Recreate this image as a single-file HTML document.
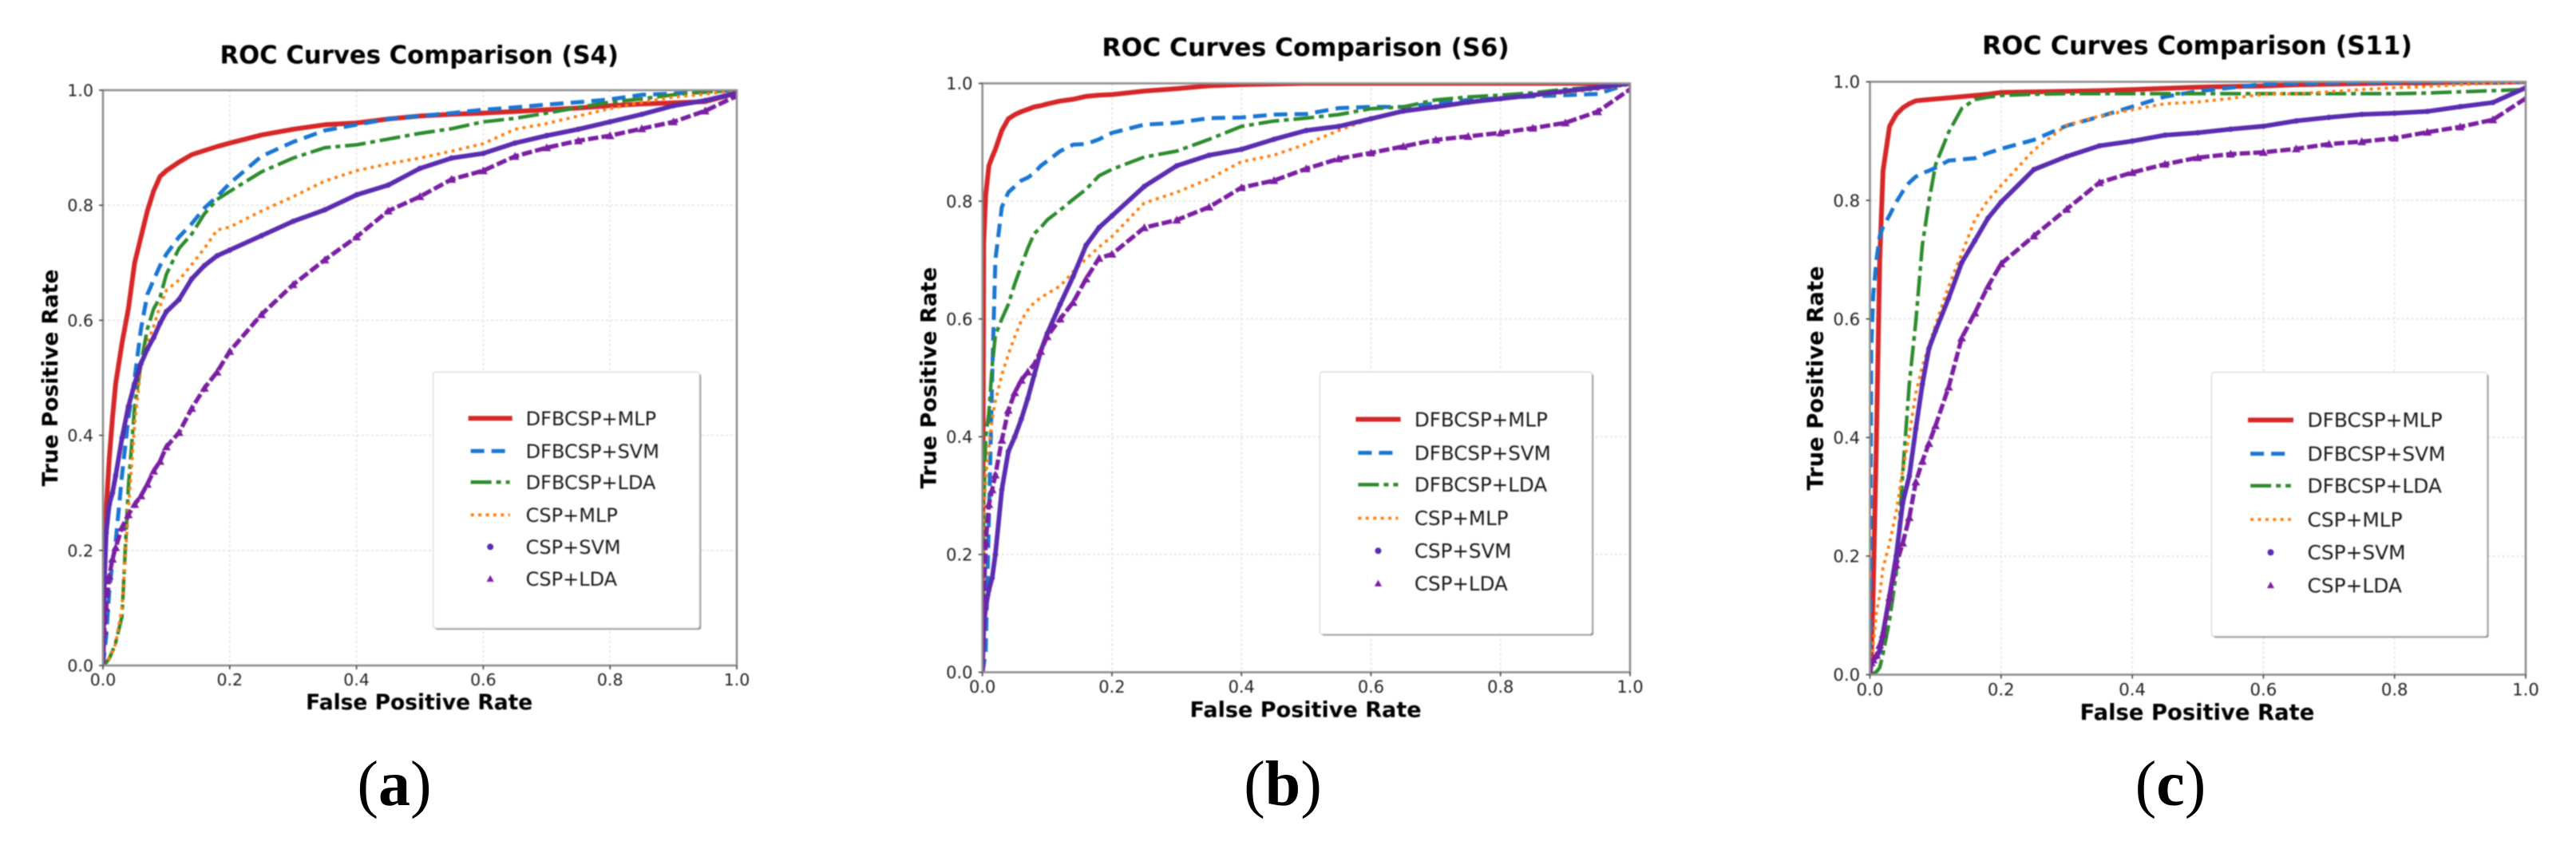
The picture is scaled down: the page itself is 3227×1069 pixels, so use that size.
<!DOCTYPE html>
<html lang="en">
<head>
<meta charset="utf-8">
<title>ROC Curves Comparison</title>
<style>
  html, body { margin: 0; padding: 0; background: #fff; }
  svg { display: block; }
  .chart { filter: blur(0.7px); font-family: "DejaVu Sans", "Liberation Sans", sans-serif; }
  .sub { font-family: "Liberation Serif", serif; font-size: 80px; fill: #000; text-anchor: middle; }
</style>
</head>
<body>
<svg id="figure" xmlns="http://www.w3.org/2000/svg" width="3227" height="1069" viewBox="0 0 3227 1069">
  <rect width="3227" height="1069" fill="#fff"/>
  <g id="charts"></g>
  <text class="sub" x="494" y="1009">(<tspan font-weight="700">a</tspan>)</text>
  <text class="sub" x="1607" y="1009">(<tspan font-weight="700">b</tspan>)</text>
  <text class="sub" x="2719" y="1009">(<tspan font-weight="700">c</tspan>)</text>
</svg>
<script>
// Shared axis values
const fprGrid = [0,.002,.005,.01,.015,.02,.03,.04,.05,.06,
  .07,.08,.09,.1,.12,.14,.16,.18,.2,.25,
  .3,.35,.4,.45,.5,.55,.6,.65,.7,.75,
  .8,.85,.9,.95,1];
const tickValues = [0,.2,.4,.6,.8,1];
const tickLabels = ['0.0','0.2','0.4','0.6','0.8','1.0'];
const seriesNames = ['DFBCSP+MLP','DFBCSP+SVM','DFBCSP+LDA','CSP+MLP','CSP+SVM','CSP+LDA'];

// Subject S4
const s4Mlp = [0,.2,.27,.36,.43,.49,.56,.62,.7,.745,
  .79,.825,.85,.86,.875,.888,.895,.902,.908,.922,
  .932,.94,.943,.95,.955,.958,.96,.963,.966,.969,
  .973,.976,.978,.98,.995];
const s4Svm = [0,.02,.05,.13,.18,.215,.33,.43,.5,.585,
  .645,.67,.695,.715,.745,.768,.795,.815,.838,.885,
  .91,.93,.94,.95,.955,.96,.966,.97,.975,.979,
  .984,.992,.994,.997,1];
const s4Lda = [0,.002,.005,.012,.025,.04,.085,.31,.45,.525,
  .585,.62,.64,.68,.725,.75,.785,.81,.824,.858,
  .882,.9,.905,.915,.925,.933,.945,.951,.96,.97,
  .979,.985,.992,.997,1];
const s4CspMlp = [0,.002,.006,.012,.025,.038,.1,.27,.42,.52,
  .56,.59,.625,.652,.67,.697,.725,.757,.762,.79,
  .815,.842,.86,.872,.882,.894,.907,.932,.942,.955,
  .968,.979,.988,.993,1];
const s4CspSvm = [0,.14,.23,.28,.3,.33,.395,.45,.49,.525,
  .55,.57,.595,.615,.636,.672,.695,.712,.722,.747,
  .772,.792,.818,.835,.864,.882,.89,.908,.921,.932,
  .945,.958,.973,.982,.995];
const s4CspLda = [0,.06,.1,.155,.185,.205,.24,.262,.28,.295,
  .315,.338,.355,.38,.405,.447,.482,.51,.546,.61,
  .662,.705,.745,.79,.815,.845,.86,.885,.9,.912,
  .921,.933,.945,.964,.99];

// Subject S6
const s6Mlp = [0,.73,.81,.86,.875,.888,.92,.94,.947,.952,
  .956,.96,.962,.965,.97,.973,.978,.98,.981,.987,
  .991,.996,.998,.999,1,1,1,1,1,1,
  1,1,1,1,1];
const s6Svm = [0,.012,.035,.26,.5,.7,.79,.815,.825,.835,
  .84,.848,.86,.868,.885,.896,.897,.905,.916,.93,
  .933,.941,.942,.947,.948,.958,.96,.96,.966,.972,
  .975,.978,.98,.982,1];
const s6Lda = [0,.28,.4,.44,.52,.572,.6,.625,.66,.69,
  .72,.745,.755,.768,.785,.803,.82,.843,.854,.875,
  .885,.905,.927,.936,.941,.947,.957,.96,.972,.977,
  .98,.984,.99,.994,1];
const s6CspMlp = [0,.27,.33,.38,.43,.46,.505,.54,.57,.597,
  .615,.628,.636,.643,.656,.68,.702,.722,.74,.797,
  .815,.838,.867,.878,.897,.92,.94,.953,.96,.968,
  .974,.979,.984,.99,.998];
const s6CspSvm = [0,.075,.11,.14,.16,.2,.31,.375,.4,.43,
  .465,.505,.545,.575,.625,.672,.725,.755,.775,.825,
  .86,.878,.888,.905,.92,.927,.94,.953,.96,.968,
  .974,.98,.987,.993,1];
const s6CspLda = [0,.12,.22,.285,.31,.335,.394,.445,.475,.496,
  .51,.523,.545,.57,.6,.628,.668,.703,.71,.755,
  .768,.79,.823,.835,.855,.872,.882,.893,.904,.91,
  .916,.924,.933,.952,.99];

// Subject S11
const s11Mlp = [0,.02,.14,.4,.7,.85,.925,.945,.956,.963,
  .968,.969,.97,.971,.973,.975,.977,.979,.982,.983,
  .984,.985,.987,.989,.991,.992,.993,.995,.996,.997,
  .998,.998,.999,.999,1];
const s11Svm = [0,.55,.64,.7,.74,.755,.775,.797,.815,.83,
  .84,.846,.85,.855,.867,.869,.871,.88,.887,.902,
  .926,.941,.958,.975,.984,.99,.996,.997,.998,.999,
  .999,1,1,1,1];
const s11Lda = [0,0,.002,.005,.012,.035,.092,.17,.34,.49,
  .596,.725,.798,.86,.915,.955,.97,.974,.977,.979,
  .98,.98,.98,.98,.98,.98,.98,.98,.98,.98,
  .98,.981,.983,.985,.987];
const s11CspMlp = [0,.01,.05,.105,.135,.18,.222,.275,.345,.405,
  .475,.52,.555,.59,.655,.71,.767,.8,.825,.885,
  .927,.942,.953,.963,.966,.972,.979,.98,.983,.987,
  .99,.992,.995,.998,1];
const s11CspSvm = [0,.02,.025,.03,.04,.07,.133,.2,.29,.335,
  .415,.49,.55,.58,.635,.695,.732,.77,.797,.852,
  .874,.892,.9,.91,.914,.92,.925,.934,.94,.945,
  .947,.95,.958,.965,.99];
const s11CspLda = [0,.02,.025,.033,.05,.068,.13,.185,.222,.265,
  .325,.36,.39,.42,.485,.568,.61,.655,.693,.74,
  .785,.83,.847,.861,.872,.878,.881,.887,.895,.899,
  .905,.915,.924,.936,.972];

const NS = 'http://www.w3.org/2000/svg';
const root = document.getElementById('charts');

function add(parent, tag, attrs, text) {
  const el = document.createElementNS(NS, tag);
  for (const k in attrs) el.setAttribute(k, attrs[k]);
  if (text !== undefined) el.textContent = text;
  parent.appendChild(el);
  return el;
}

const lineStyles = [
  { color: '#d62728', width: 6,   dash: '' },
  { color: '#1976d2', width: 5,   dash: '17 9' },
  { color: '#2e8b2e', width: 4.5, dash: '26 6 6 6' },
  { color: '#ff7f0e', width: 3.8, dash: '4 5.4' },
  { color: '#5a2db0', width: 5.8, dash: '' },
  { color: '#7b1fa2', width: 5.4, dash: '13 4' }
];

function triangle(cx, cy, r) {
  return (cx - r) + ',' + (cy + r * 0.8) + ' ' + (cx + r) + ',' + (cy + r * 0.8) + ' ' + cx + ',' + (cy - r);
}

function drawChart(cfg, idx) {
  const L = cfg.left, R = cfg.right, T = cfg.top, B = cfg.bottom;
  const W = R - L, H = B - T;
  const k = W / 794, ky = H / 721;
  const xScale = v => L + v * W;
  const yScale = v => B - v * H;

  const g = add(root, 'g', { class: 'chart' });
  
  

  const clipId = 'plot-clip-' + idx;
  const defs = add(g, 'defs', {});
  const clip = add(defs, 'clipPath', { id: clipId });
  add(clip, 'rect', { x: L, y: T, width: W, height: H });

  // Gridlines
  const gridG = add(g, 'g', { stroke: '#e2e2e2', 'stroke-width': 1.6, 'stroke-dasharray': '3 3' });
  
  
  tickValues.forEach(t => {
    if (t === 0 || t === 1) return;
    add(gridG, 'line', { x1: xScale(t), x2: xScale(t), y1: T, y2: B });
    add(gridG, 'line', { x1: L, x2: R, y1: yScale(t), y2: yScale(t) });
  });

  // Series
  const plot = add(g, 'g', { 'clip-path': 'url(#' + clipId + ')' });
  
  
  cfg.series.forEach((values, i) => {
    const st = lineStyles[i];
    const sg = add(plot, 'g', {});
    
    
    const pts = values.map((v, j) => xScale(fprGrid[j]).toFixed(1) + ',' + yScale(v).toFixed(1)).join(' ');
    const attrs = { points: pts, fill: 'none', stroke: st.color, 'stroke-width': st.width, 'stroke-linejoin': 'round' };
    if (st.dash) attrs['stroke-dasharray'] = st.dash;
    add(sg, 'polyline', attrs);
    if (i === 4) {
      values.forEach((v, j) => {
        add(sg, 'circle', { cx: xScale(fprGrid[j]), cy: yScale(v), r: 3.4, fill: st.color });
      });
    }
    if (i === 5) {
      values.forEach((v, j) => {
        add(sg, 'polygon', { points: triangle(xScale(fprGrid[j]), yScale(v), 5.5), fill: st.color });
      });
    }
  });

  // Spines
  const spines = add(g, 'rect', { x: L, y: T, width: W, height: H, fill: 'none', stroke: '#8f8f8f', 'stroke-width': 2.6 });
  
  

  // Ticks and tick labels
  const tickFont = 20.5 * k;
  const xAxis = add(g, 'g', { 'font-size': tickFont, fill: '#222', 'text-anchor': 'middle' });
  
  
  const yAxis = add(g, 'g', { 'font-size': tickFont, fill: '#222', 'text-anchor': 'end' });
  
  
  tickValues.forEach((t, i) => {
    add(xAxis, 'line', { x1: xScale(t), x2: xScale(t), y1: B, y2: B + 5, stroke: '#444', 'stroke-width': 1.6 });
    const xt = add(xAxis, 'text', { x: xScale(t), y: B + 25 * ky }, tickLabels[i]);
    
    
    add(yAxis, 'line', { x1: L - 5, x2: L, y1: yScale(t), y2: yScale(t), stroke: '#444', 'stroke-width': 1.6 });
    const yt = add(yAxis, 'text', { x: L - 12 * k, y: yScale(t) + 7.5 * ky }, tickLabels[i]);
    
    
  });

  // Title and axis titles
  const cx = L + 0.499 * W;
  const title = add(g, 'text', { x: cx, y: T - 0.062 * H + 11 * ky, 'font-size': 30.7 * k, 'font-weight': 700, fill: '#000', 'text-anchor': 'middle' }, cfg.title);
  
  
  const xTitle = add(g, 'text', { x: cx, y: B + 0.063 * H + 9.5 * ky, 'font-size': 26.5 * k, 'font-weight': 700, fill: '#000', 'text-anchor': 'middle' }, 'False Positive Rate');
  
  
  const yx = L - 0.084 * W + 9.5 * k, yy = T + 0.5 * H;
  const yTitle = add(g, 'text', { x: yx, y: yy, 'font-size': 26.5 * k, 'font-weight': 700, fill: '#000', 'text-anchor': 'middle', transform: 'rotate(-90 ' + yx + ' ' + yy + ')' }, 'True Positive Rate');
  
  

  // Legend
  const lx = L + 0.521 * W, rx = L + 0.941 * W, ty = T + 0.49 * H, by = T + 0.935 * H;
  const legend = add(g, 'g', {});
  
  
  add(legend, 'rect', { x: lx + 2, y: ty + 2, width: rx - lx, height: by - ty, rx: 3, fill: '#8a8a8a' });
  add(legend, 'rect', { x: lx, y: ty, width: rx - lx, height: by - ty, rx: 3, fill: '#fff', stroke: '#dcdcdc', 'stroke-width': 1.4 });
  const rowY = [58, 99, 138, 179, 219, 259];
  seriesNames.forEach((name, i) => {
    const st = lineStyles[i];
    const y = ty + rowY[i] * ky;
    const hx1 = lx + (i === 0 ? 44 : 47) * k, hx2 = lx + (i === 0 ? 99 : 96) * k, hm = lx + 71.5 * k;
    const entry = add(legend, 'g', {});
    
    
    if (i < 4) {
      const a = { x1: hx1, x2: hx2, y1: y, y2: y, stroke: st.color, 'stroke-width': st.width };
      if (st.dash) a['stroke-dasharray'] = st.dash;
      add(entry, 'line', a);
    } else if (i === 4) {
      add(entry, 'circle', { cx: hm, cy: y, r: 4, fill: st.color });
    } else {
      add(entry, 'polygon', { points: triangle(hm, y, 4.6), fill: st.color });
    }
    add(entry, 'text', { x: lx + 116 * k, y: y + 8.6 * ky, 'font-size': 24 * k, fill: '#1a1a1a' }, name);
  });
}

const charts = [
  { key: 's4',  title: 'ROC Curves Comparison (S4)',  left: 129,  right: 923,  top: 113,   bottom: 834,
    series: [s4Mlp, s4Svm, s4Lda, s4CspMlp, s4CspSvm, s4CspLda] },
  { key: 's6',  title: 'ROC Curves Comparison (S6)',  left: 1230.7, right: 2042, top: 104.5, bottom: 842.5,
    series: [s6Mlp, s6Svm, s6Lda, s6CspMlp, s6CspSvm, s6CspLda] },
  { key: 's11', title: 'ROC Curves Comparison (S11)', left: 2342.5, right: 3164, top: 102.5, bottom: 845.5,
    series: [s11Mlp, s11Svm, s11Lda, s11CspMlp, s11CspSvm, s11CspLda] }
];

charts.forEach(drawChart);
</script>
</body>
</html>
